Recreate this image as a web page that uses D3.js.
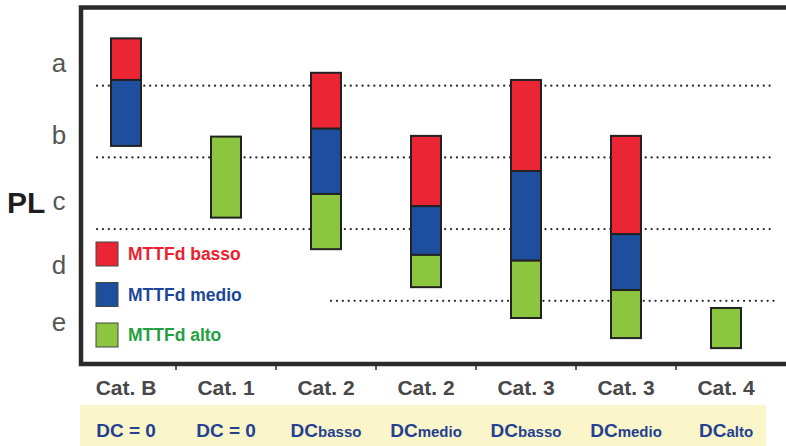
<!DOCTYPE html>
<html>
<head>
<meta charset="utf-8">
<script src="https://cdn.jsdelivr.net/npm/d3@7"></script>
<style>
  html, body { margin: 0; padding: 0; background: #fff; }
  svg { display: block; }
</style>
</head>
<body>
<svg id="chart" width="786" height="446"></svg>
<script>
// ---- data ----
const categories = ["Cat. B", "Cat. 1", "Cat. 2", "Cat. 2", "Cat. 3", "Cat. 3", "Cat. 4"];
const dcMain = ["DC = 0", "DC = 0", "DC", "DC", "DC", "DC", "DC"];
const dcSub = ["", "", "basso", "medio", "basso", "medio", "alto"];
const plLevels = ["a", "b", "c", "d", "e"];
const plLabelValues = [4.82, 3.82, 2.9, 2.0, 1.2];
const plBoundaries = [4.5, 3.5, 2.5, 1.5];
const seriesNames = ["MTTFd basso", "MTTFd medio", "MTTFd alto"];
// [low, high] PL range covered by each series in each category
const bassoRange = [[4.58, 5.16], null, [3.90, 4.68], [2.82, 3.80], [3.31, 4.58], [2.43, 3.80], null];
const medioRange = [[3.66, 4.58], null, [2.99, 3.90], [2.14, 2.82], [2.06, 3.31], [1.65, 2.43], null];
const altoRange  = [null, [2.66, 3.79], [2.22, 2.99], [1.69, 2.14], [1.26, 2.06], [0.98, 1.65], [0.84, 1.40]];

(function () {
// ---- styles ----
const seriesFill = ["#ec2535", "#1d4f9e", "#8cc63f"];
const seriesText = ["#ea2230", "#1c4796", "#23a040"];
const frameColor = "#2b2b2b";

const svg = d3.select("#chart");

const mLeft = 81, mTop = 7.5, mBottom = 364, mRight = 786;

const x = d3.scaleBand().domain(d3.range(categories.length)).range([76, 776]).padding(0);
const y = d3.scaleLinear().domain([1.5, 4.5]).range([300.8, 85.7]);
const barW = x.step() * 0.3;
const cx = i => x(i) + x.step() / 2;

// yellow band for DC labels
svg.append("rect")
  .attr("x", mLeft - 1).attr("y", 405)
  .attr("width", 767 - mLeft).attr("height", 446 - 405)
  .attr("fill", "#faf6c9");

// dotted level boundaries
const dotG = svg.append("g");
plBoundaries.forEach((b, i) => {
  const last = i === plBoundaries.length - 1;
  dotG.append("line")
    .attr("x1", last ? cx(2) + 5 : 97)
    .attr("x2", last ? 775 : 770)
    .attr("y1", y(b)).attr("y2", y(b))
    .attr("stroke", "#2a2a2a")
    .attr("stroke-width", 2.2)
    .attr("stroke-linecap", "round")
    .attr("stroke-dasharray", "0.1 5.8");
});

// bars
const allRanges = [bassoRange, medioRange, altoRange];
const barG = svg.append("g");
allRanges.forEach((ranges, s) => {
  barG.selectAll(null)
    .data(ranges.map((r, i) => ({ r, i })).filter(d => d.r))
    .join("rect")
    .attr("x", d => cx(d.i) - barW / 2)
    .attr("width", barW)
    .attr("y", d => y(d.r[1]))
    .attr("height", d => y(d.r[0]) - y(d.r[1]))
    .attr("fill", seriesFill[s])
    .attr("stroke", "#222")
    .attr("stroke-width", 2);
});

// frame (left, top, bottom; open on the right)
svg.append("path")
  .attr("d", `M${mRight},${mTop} H${mLeft} V${mBottom} H${mRight}`)
  .attr("fill", "none")
  .attr("stroke", frameColor)
  .attr("stroke-width", 4.5);

// bottom separator ticks
svg.append("g").selectAll("line")
  .data(d3.range(1, categories.length))
  .join("line")
  .attr("x1", i => x(i)).attr("x2", i => x(i))
  .attr("y1", mBottom).attr("y2", mBottom + 6)
  .attr("stroke", frameColor).attr("stroke-width", 1.5);

// y labels
svg.append("g").selectAll("text")
  .data(plLevels)
  .join("text")
  .attr("x", 59)
  .attr("y", (d, i) => y(plLabelValues[i]))
  .attr("dy", "0.35em")
  .attr("text-anchor", "middle")
  .attr("font-family", "Liberation Sans, Arial, sans-serif")
  .attr("font-size", 26)
  .attr("fill", "#555")
  .text(d => d);

svg.append("text")
  .attr("x", 7).attr("y", 213)
  .attr("font-family", "Liberation Sans, Arial, sans-serif")
  .attr("font-weight", "bold")
  .attr("font-size", 30)
  .attr("fill", "#1e1e1e")
  .text("PL");

// category labels
svg.append("g").selectAll("text")
  .data(categories)
  .join("text")
  .attr("x", (d, i) => cx(i))
  .attr("y", 395)
  .attr("text-anchor", "middle")
  .attr("font-family", "Liberation Sans, Arial, sans-serif")
  .attr("font-weight", "bold")
  .attr("font-size", 21)
  .attr("fill", "#484848")
  .text(d => d);

// DC labels
const dcT = svg.append("g").selectAll("text")
  .data(dcMain)
  .join("text")
  .attr("x", (d, i) => cx(i))
  .attr("y", 437)
  .attr("text-anchor", "middle")
  .attr("font-family", "Liberation Sans, Arial, sans-serif")
  .attr("font-weight", "bold")
  .attr("fill", "#243f93");
dcT.append("tspan").attr("font-size", 19).text(d => d);
dcT.append("tspan").attr("font-size", 15).text((d, i) => dcSub[i]);

// legend
const leg = svg.append("g").selectAll("g")
  .data(seriesNames)
  .join("g")
  .attr("transform", (d, i) => `translate(96, ${242 + i * 40.5})`);
leg.append("rect")
  .attr("width", 22).attr("height", 24)
  .attr("fill", (d, i) => seriesFill[i])
  .attr("stroke", "#444").attr("stroke-width", 1);
leg.append("text")
  .attr("x", 32).attr("y", 12).attr("dy", "0.36em")
  .attr("font-family", "Liberation Sans, Arial, sans-serif")
  .attr("font-weight", "bold")
  .attr("font-size", 17.5)
  .attr("fill", (d, i) => seriesText[i])
  .text(d => d);
})();
</script>
</body>
</html>
